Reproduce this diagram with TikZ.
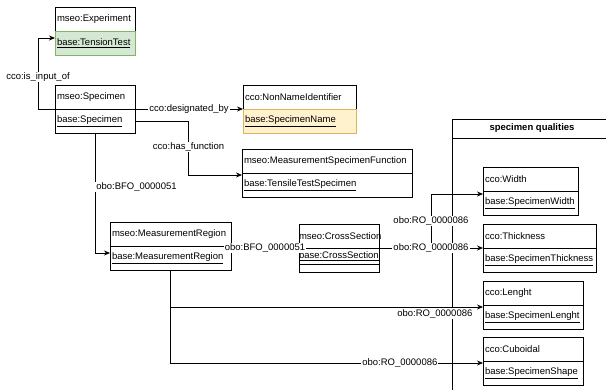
\documentclass[tikz,border=0pt]{standalone}
\usepackage{fontspec}
\setmainfont{Liberation Sans}
\usetikzlibrary{arrows.meta,calc}
\definecolor{grnF}{HTML}{D5E8D4}
\definecolor{grnD}{HTML}{82B366}
\definecolor{ylwF}{HTML}{FFF2CC}
\definecolor{ylwD}{HTML}{D6B656}
\newcommand{\dfont}{\fontsize{9.5}{11}\selectfont}
\tikzset{
	cls/.style={draw=black, anchor=north west, outer sep=0pt, minimum height=24pt, inner xsep=2pt, inner ysep=0pt, text width=#1, align=left, font=\dfont},
	lbl/.style={fill=white, inner sep=1pt, font=\dfont},
	arr/.style={-{Stealth[length=6pt,width=5pt]}},
}
\begin{document}
\begin{tikzpicture}[x=1pt, y=-1pt, line width=0.7pt]
	\useasboundingbox (0,0) rectangle (606,389);
	\clip (0,0) rectangle (606,389);
	% container
	\node[draw, anchor=north west, outer sep=0pt, minimum width=160pt, minimum height=19pt, inner sep=0pt, font=\dfont\bfseries] (sq) at (452,119) {specimen qualities};
	\draw (sq.south west) -- ++(0,280);
	\draw (sq.south east) -- ++(0,280);
	% classes
	\node[cls=76pt] (exp) at (55,7) {mseo:Experiment};
	\node[cls=76pt, draw=grnD, fill=grnF] (expB) at (exp.south west) {\underline{base:TensionTest}};
	\node[cls=76pt] (spec) at (55,85) {mseo:Specimen};
	\node[cls=76pt] (specB) at (spec.south west) {\underline{base:Specimen}};
	\node[cls=109pt] (nni) at (243,85) {cco:NonNameIdentifier};
	\node[cls=109pt, draw=ylwD, fill=ylwF] (nniB) at (nni.south west) {\underline{base:SpecimenName}};
	\node[cls=166pt] (msf) at (242,149) {mseo:MeasurementSpecimenFunction};
	\node[cls=166pt] (msfB) at (msf.south west) {\underline{base:TensileTestSpecimen}};
	\node[cls=117pt] (mr) at (110,222) {mseo:MeasurementRegion};
	\node[cls=117pt] (mrB) at (mr.south west) {\underline{base:MeasurementRegion}};
	\node[cls=80pt, inner xsep=0pt] (cs) at (299,224) {mseo:CrossSection};
	\node[cls=80pt, inner xsep=0pt, minimum height=16pt] (csB) at (cs.south west) {\underline{base:CrossSection}};
	\node[cls=80pt, inner xsep=0pt, minimum height=8pt] (csC) at (csB.south west) {};
	\node[cls=91pt] (width) at (483,167) {cco:Width};
	\node[cls=91pt] (widthB) at (width.south west) {\underline{base:SpecimenWidth}};
	\node[cls=109pt] (thick) at (483,224) {cco:Thickness};
	\node[cls=109pt] (thickB) at (thick.south west) {\underline{base:SpecimenThickness}};
	\node[cls=96pt] (len) at (483,281) {cco:Lenght};
	\node[cls=96pt] (lenB) at (len.south west) {\underline{base:SpecimenLenght}};
	\node[cls=96pt] (cub) at (483,337) {cco:Cuboidal};
	\node[cls=96pt] (cubB) at (cub.south west) {\underline{base:SpecimenShape}};
	% relations
	\draw[arr] (spec.south west) -- ++(-17,0) |- node[lbl, pos=0.225]{cco:is\_input\_of} ([yshift=5pt]expB.west);
	\draw[arr] (spec.south east) -- node[lbl]{cco:designated\_by} (nni.south west);
	\coordinate (hf) at ($(specB.east)!0.5!(msf.south west)$);
	\draw[arr] (specB.east) -| node[lbl, pos=1]{cco:has\_function} (hf) |- ([yshift=-2pt]msf.south west);
	\draw[arr] (specB.south) |- node[lbl, right, pos=0.225]{obo:BFO\_0000051} ([yshift=5pt]mrB.west);
	\draw (mr.east |- cs.south west) -- node[lbl]{obo:BFO\_0000051} (cs.south west);
	\coordinate (jn) at ($(cs.south east)!0.5!(thick.south west)$);
	\draw[arr] (jn) |- node[lbl, pos=0.25]{obo:RO\_0000086} ([yshift=-3pt]width.south west);
	\draw[arr] (cs.south east) -- node[lbl]{obo:RO\_0000086} (thick.south west);
	\draw[arr] (mrB.south) |- node[lbl, below=1pt, pos=0.923]{obo:RO\_0000086} ([yshift=-2pt]len.south west);
	\draw[arr] (mrB.south) |- node[lbl, pos=0.867]{obo:RO\_0000086} ([yshift=-2pt]cub.south west);
\end{tikzpicture}
\end{document}
